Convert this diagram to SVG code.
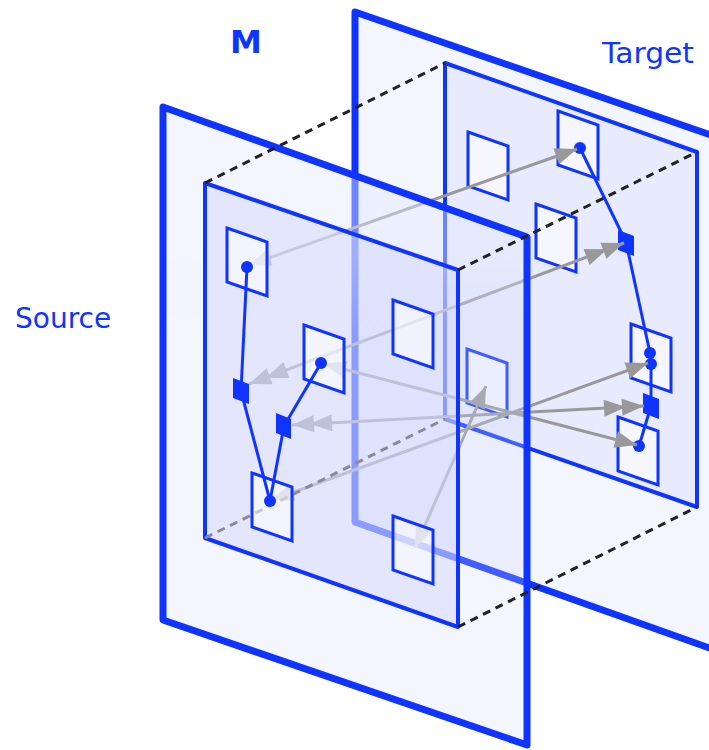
<svg xmlns="http://www.w3.org/2000/svg" width="709" height="750" viewBox="0 0 709 750">
<style>
.plane{stroke:#1034ff;stroke-width:7;stroke-linejoin:round}
.inner{stroke:#1034ff;stroke-width:4;stroke-linejoin:round}
.node{fill:#ffffff;fill-opacity:0.55;stroke:#1034ff;stroke-width:3;stroke-linejoin:miter}
.blk{fill:#1034ff;stroke:none}
.link{stroke:#1034ff;stroke-width:3;fill:none}
.dot{fill:#1034ff}
.map{stroke:#999999;stroke-width:3;fill:none}
.dash{stroke:#222222;stroke-width:3;stroke-dasharray:8 6;fill:none}
.lbl{font-family:"DejaVu Sans","Noto Sans",sans-serif;fill:#1034ff}
</style>
<defs>
<marker id="a1" markerUnits="userSpaceOnUse" orient="auto-start-reverse" refX="0" refY="0" markerWidth="50" markerHeight="30" overflow="visible">
<path d="M-22,-8.5 L0,0 L-22,8.5 z" fill="#999999"/>
</marker>
<marker id="a2" markerUnits="userSpaceOnUse" orient="auto-start-reverse" refX="0" refY="0" markerWidth="50" markerHeight="30" overflow="visible">
<path d="M-22,-8.5 L0,0 L-22,8.5 z M-40,-8.5 L-18,0 L-40,8.5 z" fill="#999999"/>
</marker>
<linearGradient id="sog" gradientUnits="userSpaceOnUse" x1="0" y1="0" x2="0" y2="750">
<stop offset="0.34" stop-color="rgb(227,232,255)" stop-opacity="0.44"/>
<stop offset="0.44" stop-color="rgb(207,215,255)" stop-opacity="0.25"/>
</linearGradient>
</defs>

<g id="target-plane">
<polygon class="plane" points="355,12 760,152 760,666 355,522" fill="#f3f5ff"/>
<polygon class="inner" points="445,63 697,152 697,507 445,419" fill="#e8ebfd"/>
</g>

<g id="target-nodes">
<polygon id="T1" class="node" points="468,132 508,146 508,200 468,186"/>
<polygon id="T2" class="node" points="558,111 598,125 598,179 558,165"/>
<polygon id="T3" class="node" points="536,204 576,218 576,272 536,258"/>
<polygon id="T4" class="node" points="631,324 671,338 671,392 631,378"/>
<polygon id="T5" class="node" points="618,417 658,431 658,485 618,471"/>
<polygon id="T6" class="node" points="467,349 507,363 507,417 467,403"/>
</g>

<g id="target-links">
<line class="link" x1="580" y1="148" x2="626" y2="242"/>
<line class="link" x1="626" y1="242" x2="650" y2="353"/>
<line class="link" x1="651" y1="363" x2="651" y2="406"/>
<line class="link" x1="651" y1="406" x2="639" y2="446"/>
<polygon id="B2" class="blk" points="618,230 634,236 634,256 618,250"/>
<polygon id="B4" class="blk" points="643,393 659,399 659,419 643,413"/>
<circle class="dot" cx="580" cy="148" r="6"/>
<circle class="dot" cx="650" cy="353" r="6"/>
<circle class="dot" cx="651" cy="364" r="6"/>
<circle class="dot" cx="639" cy="446" r="6"/>
</g>

<g id="connectors">
<line class="map" x1="249" y1="265" x2="577" y2="149" marker-start="url(#a1)" marker-end="url(#a1)"/>
<line class="map" x1="324" y1="364" x2="637" y2="445" marker-start="url(#a1)" marker-end="url(#a1)"/>
<line class="map" x1="249" y1="384" x2="624" y2="243" marker-start="url(#a2)" marker-end="url(#a2)"/>
<line class="map" x1="292" y1="425" x2="644" y2="406" marker-start="url(#a2)" marker-end="url(#a2)"/>
<line class="map" x1="272" y1="500" x2="648" y2="363" marker-start="url(#a1)" marker-end="url(#a1)"/>
<line class="map" x1="415" y1="548" x2="486" y2="386" marker-start="url(#a1)" marker-end="url(#a1)"/>
</g>

<g id="source-plane">
<polygon class="plane" points="163,107 527,237 527,745 163,620" fill="url(#sog)"/>
<polygon class="inner" points="205,183 458,270 458,627 205,538" fill="rgb(212,216,251)" fill-opacity="0.514"/>
<line x1="205" y1="538" x2="445" y2="419" stroke="#8a8a96" stroke-width="3" stroke-dasharray="8 6"/>
</g>

<g id="source-nodes">
<polygon id="S1" class="node" points="227,228 267,242 267,296 227,282"/>
<polygon id="S2" class="node" points="304,325 344,339 344,393 304,379"/>
<polygon id="S3" class="node" points="393,300 433,314 433,368 393,354"/>
<polygon id="S4" class="node" points="252,473 292,487 292,541 252,527"/>
<polygon id="S5" class="node" points="393,516 433,530 433,584 393,570"/>
</g>

<g id="source-links">
<line class="link" x1="247" y1="267" x2="241" y2="391"/>
<line class="link" x1="241" y1="391" x2="270" y2="501"/>
<line class="link" x1="321" y1="363" x2="284" y2="426"/>
<line class="link" x1="284" y1="426" x2="270" y2="501"/>
<polygon id="B1" class="blk" points="233,378 249,384 249,404 233,398"/>
<polygon id="B3" class="blk" points="276,413 291,419 291,439 276,433"/>
<circle class="dot" cx="247" cy="267" r="6"/>
<circle class="dot" cx="321" cy="363" r="6"/>
<circle class="dot" cx="270" cy="501" r="6"/>
</g>

<g id="mapping-box">
<line class="dash" x1="205" y1="183" x2="445" y2="63"/>
<line class="dash" x1="458" y1="270" x2="697" y2="152"/>
<line class="dash" x1="458" y1="627" x2="697" y2="507"/>
</g>

<g id="labels">
<text class="lbl" x="246" y="53" text-anchor="middle" font-family="Liberation Sans, Arial, sans-serif" font-weight="bold" font-size="32">M</text>
<text class="lbl" x="602" y="63" font-size="28" textLength="92" lengthAdjust="spacingAndGlyphs">Target</text>
<text class="lbl" x="15" y="328" font-size="28">Source</text>
</g>
</svg>
